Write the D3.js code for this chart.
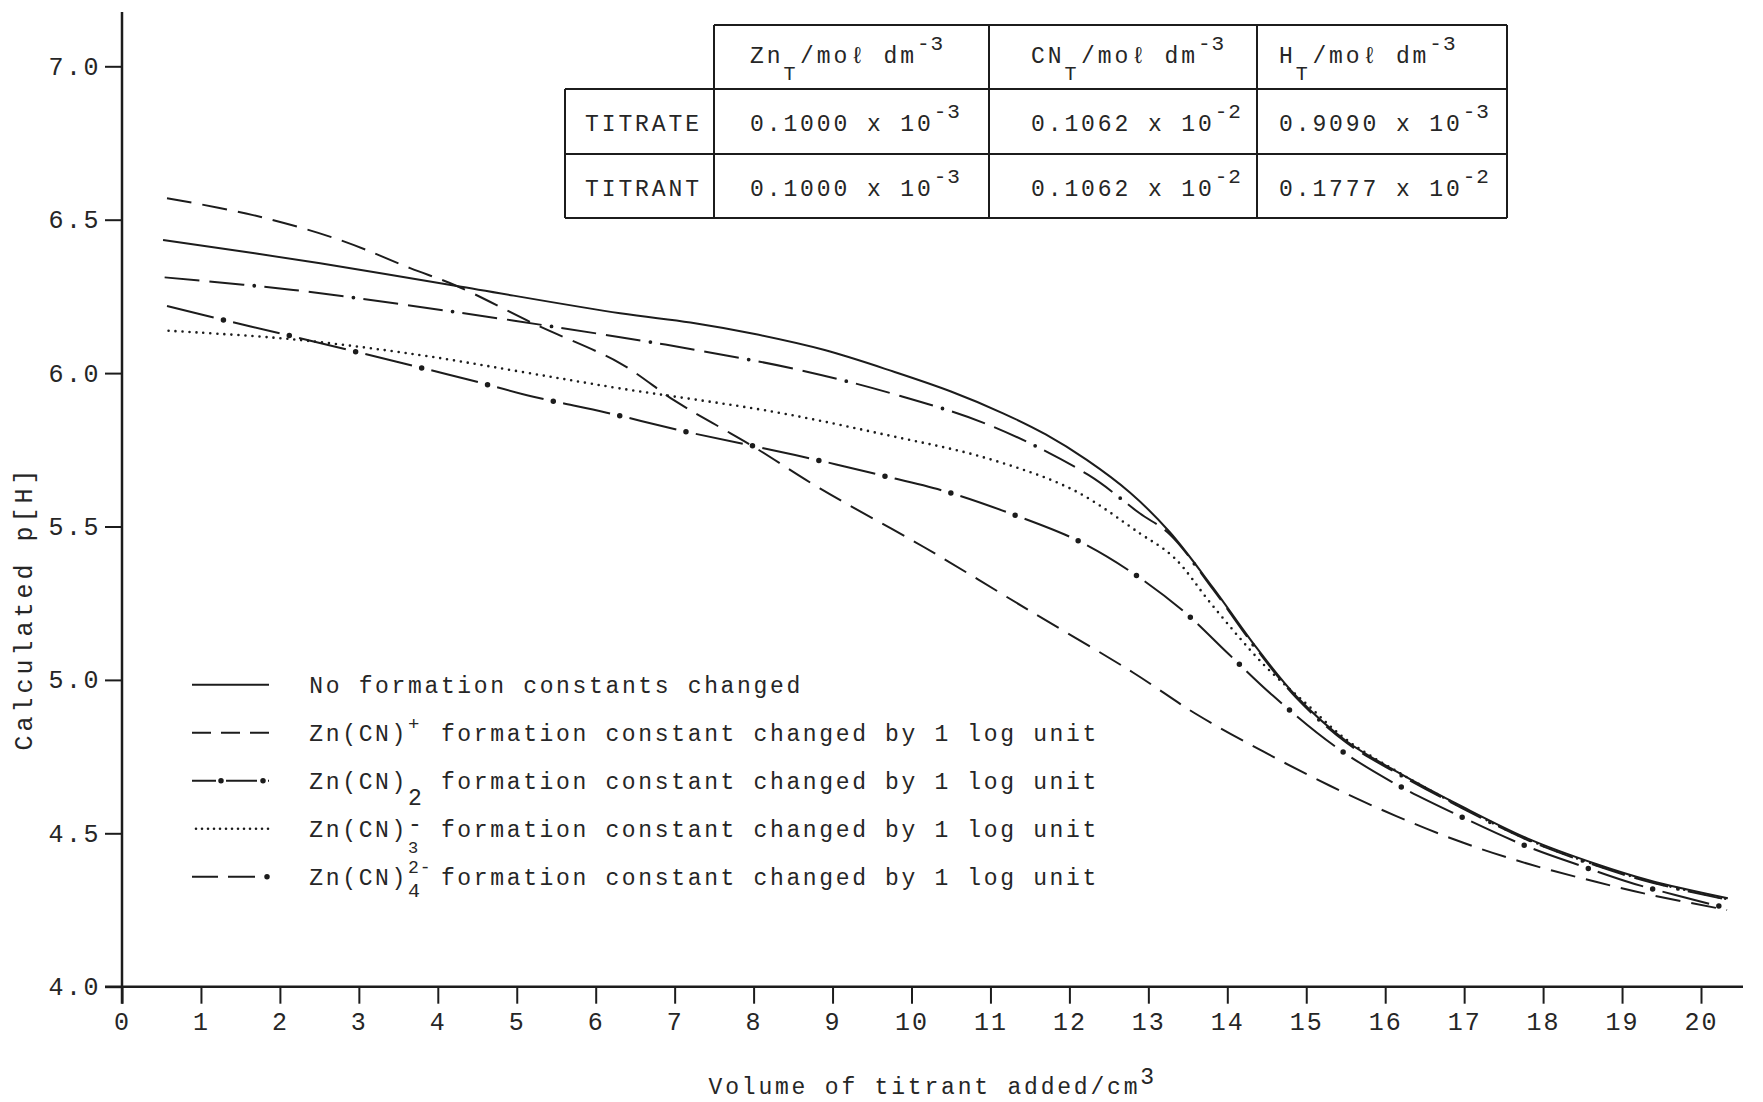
<!DOCTYPE html>
<html>
<head>
<meta charset="utf-8">
<script src="https://d3js.org/d3.v7.min.js"></script>
<style>
  body { margin: 0; background: #fff; }
  svg { display: block; }
  text { font-family: "Liberation Mono", "DejaVu Sans Mono", monospace; fill: #262626; }
</style>
</head>
<body>
<svg id="chart" width="1763" height="1102"></svg>
<script>
// volume of titrant added (cm3) / calculated p[H]
const volNone = [0.52, 2.51, 4.24, 6.31, 7.2, 8.0, 8.9, 9.77, 10.5, 11.16, 11.7, 12.22, 12.77, 13.27, 13.82, 14.37, 14.88, 15.51, 16.14, 16.99, 17.83, 18.68, 19.35, 20.34];
const phNone  = [6.434, 6.358, 6.284, 6.195, 6.165, 6.128, 6.075, 6.005, 5.940, 5.869, 5.800, 5.717, 5.610, 5.482, 5.300, 5.105, 4.945, 4.800, 4.702, 4.585, 4.480, 4.399, 4.346, 4.288];

const volOne = [0.57, 1.66, 2.76, 3.65, 4.24, 5.25, 6.31, 7.0, 7.53, 8.0, 8.84, 10.15, 11.5, 12.8, 13.61, 14.46, 15.30, 16.14, 16.99, 17.83, 18.68, 19.35, 20.33];
const phOne  = [6.570, 6.515, 6.434, 6.342, 6.284, 6.157, 6.032, 5.910, 5.830, 5.760, 5.624, 5.434, 5.225, 5.025, 4.888, 4.766, 4.655, 4.556, 4.469, 4.399, 4.341, 4.300, 4.250];

const volTwo = [0.57, 1.37, 2.17, 3.48, 4.37, 5.21, 6.14, 7.11, 8.0, 8.80, 9.60, 10.45, 11.31, 12.09, 12.77, 13.44, 14.01, 14.58, 15.35, 16.13, 16.93, 17.77, 18.49, 19.16, 20.33];
const phTwo  = [6.219, 6.168, 6.119, 6.037, 5.980, 5.923, 5.871, 5.811, 5.762, 5.717, 5.668, 5.613, 5.537, 5.456, 5.354, 5.225, 5.086, 4.948, 4.786, 4.661, 4.558, 4.460, 4.393, 4.335, 4.256];

const volThree = [0.59, 2.17, 3.77, 5.04, 6.31, 8.25, 9.69, 10.96, 12.05, 12.89, 13.32, 13.82, 14.46, 15.01, 15.51, 16.14, 16.99, 17.83, 18.68, 19.35, 20.34];
const phThree  = [6.138, 6.110, 6.059, 6.005, 5.950, 5.874, 5.798, 5.722, 5.619, 5.478, 5.400, 5.240, 5.050, 4.920, 4.805, 4.703, 4.582, 4.477, 4.396, 4.343, 4.285];

const volFour = [0.54, 2.17, 4.2, 6.31, 7.28, 8.55, 9.77, 11.01, 12.24, 12.89, 13.27, 13.82, 14.37, 14.88, 15.51, 16.14, 16.99, 17.83, 18.68, 19.35, 20.34];
const phFour  = [6.312, 6.271, 6.200, 6.117, 6.075, 6.012, 5.932, 5.828, 5.668, 5.543, 5.475, 5.295, 5.100, 4.940, 4.795, 4.697, 4.580, 4.475, 4.394, 4.341, 4.283];

const xTicks = [0, 1, 2, 3, 4, 5, 6, 7, 8, 9, 10, 11, 12, 13, 14, 15, 16, 17, 18, 19, 20];
const yTicks = [4.0, 4.5, 5.0, 5.5, 6.0, 6.5, 7.0];

// concentrations table
const tableHeads = ["Zn", "CN", "H"];
const tableRows = ["TITRATE", "TITRANT"];
const znVal = ["0.1000", "0.1000"], znExp = ["-3", "-3"];
const cnVal = ["0.1062", "0.1062"], cnExp = ["-2", "-2"];
const hVal  = ["0.9090", "0.1777"], hExp  = ["-3", "-2"];

const ink = "#1c1c1c";
const svg = d3.select("#chart");
svg.append("rect").attr("width", 1763).attr("height", 1102).attr("fill", "#fff");

const x = d3.scaleLinear().domain([0, 20]).range([122, 1701]);
const y = d3.scaleLinear().domain([4, 7]).range([986.7, 66.3]);

// one text element, each part placed in its own monospace cell
function richText(g, x0, y0, parts, pitch, size) {
  const t = g.append("text").attr("font-size", size);
  parts.forEach(p => {
    const fs = p.s || size;
    t.append("tspan")
      .attr("x", x0 + p.c * pitch)
      .attr("y", y0 + (p.dy || 0))
      .attr("font-size", fs)
      .attr("letter-spacing", p.ls != null ? p.ls : pitch - 0.6 * fs)
      .text(p.t);
  });
  return t;
}

// axes
const yAxis = svg.append("g")
  .attr("transform", "translate(" + x(0) + ",0)")
  .call(d3.axisLeft(y).tickValues(yTicks).tickFormat(d3.format(".1f")).tickSize(17).tickPadding(4));
yAxis.select(".domain").remove();
yAxis.selectAll("line").attr("stroke", ink).attr("stroke-width", 2);
yAxis.selectAll("text").attr("font-size", 25).attr("letter-spacing", 2.5);

const xAxis = svg.append("g")
  .attr("transform", "translate(0," + y(4) + ")")
  .call(d3.axisBottom(x).tickValues(xTicks).tickSize(17).tickPadding(9));
xAxis.select(".domain").remove();
xAxis.selectAll("line").attr("stroke", ink).attr("stroke-width", 2);
xAxis.selectAll("text").attr("font-size", 25).attr("letter-spacing", 2);

svg.append("line").attr("x1", x(0)).attr("x2", x(0)).attr("y1", 12).attr("y2", y(4) + 17)
  .attr("stroke", ink).attr("stroke-width", 2.5);
svg.append("line").attr("x1", x(0) - 17).attr("x2", 1743).attr("y1", y(4)).attr("y2", y(4))
  .attr("stroke", ink).attr("stroke-width", 2.5);

svg.append("text")
  .attr("transform", "translate(32,608) rotate(-90)")
  .attr("text-anchor", "middle")
  .attr("font-size", 25)
  .attr("letter-spacing", 4)
  .text("Calculated p[H]");

richText(svg, 708.6, 1094, [{t: "Volume of titrant added/cm", c: 0}, {t: "3", c: 26, dy: -10}], 16.6, 23);

// line styles: dash pattern plus optional dots along the path
const tail = "formation constant changed by 1 log unit";
const series = [
  {vol: volNone, ph: phNone, dash: null,
   label: [{t: "No formation constants changed", c: 0}]},
  {vol: volOne, ph: phOne, dash: "25 11", legDash: "19 10",
   label: [{t: "Zn(CN)", c: 0}, {t: "+", c: 6, dy: -11, s: 19}, {t: tail, c: 8}]},
  {vol: volTwo, ph: phTwo, dash: "48 20", dot: {w: 5.5, period: 68, at: 58},
   legDash: "24 10 31 11", legDot: {w: 5.5, period: 42, at: 29},
   label: [{t: "Zn(CN)", c: 0}, {t: "2", c: 6, dy: 16}, {t: tail, c: 8}]},
  {vol: volThree, ph: phThree, dash: "0 7", round: true, width: 2.6, legDash: "0 6",
   label: [{t: "Zn(CN)", c: 0}, {t: "-", c: 6, dy: -5.5}, {t: "3", c: 6, dy: 15.8, s: 17}, {t: tail, c: 8}]},
  {vol: volFour, ph: phFour, dash: "35 10 35 20", dot: {w: 3.8, period: 100, at: 90},
   legDash: "26 10 27 200", legDot: {w: 5.5, period: 200, at: 75},
   label: [{t: "Zn(CN)", c: 0}, {t: "2-", c: 6, dy: -12, s: 18, ls: 1}, {t: "4", c: 6, dy: 12, s: 20}, {t: tail, c: 8}]}
];

function stroke(g, d, dash, round, width, dot) {
  g.append("path").attr("d", d)
    .attr("fill", "none").attr("stroke", ink)
    .attr("stroke-width", width || 2)
    .attr("stroke-linecap", round ? "round" : "butt")
    .attr("stroke-dasharray", dash);
  if (dot) {
    g.append("path").attr("d", d)
      .attr("fill", "none").attr("stroke", ink)
      .attr("stroke-width", dot.w)
      .attr("stroke-linecap", "round")
      .attr("stroke-dasharray", "0 " + dot.period)
      .attr("stroke-dashoffset", dot.period - dot.at);
  }
}

const line = d3.line().x(d => x(d[0])).y(d => y(d[1])).curve(d3.curveCatmullRom.alpha(0.5));
const plot = svg.append("g");
series.forEach(s => {
  stroke(plot, line(d3.zip(s.vol, s.ph)), s.dash, s.round, s.width, s.dot);
});

// legend
const legend = svg.append("g");
series.forEach((s, i) => {
  const base = 692.7 + i * 48;
  const sx0 = s.round ? 196 : 192;
  stroke(legend, "M" + sx0 + "," + (base - 8) + "H" + (sx0 + 77),
    s.legDash || s.dash, s.round, s.width, s.legDot);
  richText(legend, 309.3, base, s.label, 16.45, 23);
});

// table
const table = svg.append("g");
const tl = (x1, y1, x2, y2) => table.append("line")
  .attr("x1", x1).attr("y1", y1).attr("x2", x2).attr("y2", y2)
  .attr("stroke", ink).attr("stroke-width", 2);
tl(714, 25, 1507, 25);
[89, 154, 218].forEach(v => tl(565, v, 1507, v));
tl(565, 89, 565, 218);
[714, 989, 1257, 1507].forEach(v => tl(v, 25, v, 218));

const colX = [750, 1031, 1279];
const tp = 16.7;
tableHeads.forEach((h, j) => {
  const n = h.length;
  richText(table, colX[j], 63, [
    {t: h, c: 0}, {t: "T", c: n, dy: 17, s: 20},
    {t: "/mo\u2113 dm", c: n + 1}, {t: "-3", c: n + 8, dy: -13, s: 21, ls: 1}
  ], tp, 23);
});
const vals = [[znVal, znExp], [cnVal, cnExp], [hVal, hExp]];
tableRows.forEach((r, i) => {
  const base = 131 + i * 64.5;
  richText(table, 585, base, [{t: r, c: 0}], tp, 23);
  vals.forEach((v, j) => {
    richText(table, colX[j], base, [{t: v[0][i] + " x 10", c: 0}, {t: v[1][i], c: 11, dy: -13, s: 21, ls: 1}], tp, 23);
  });
});
</script>
</body>
</html>
